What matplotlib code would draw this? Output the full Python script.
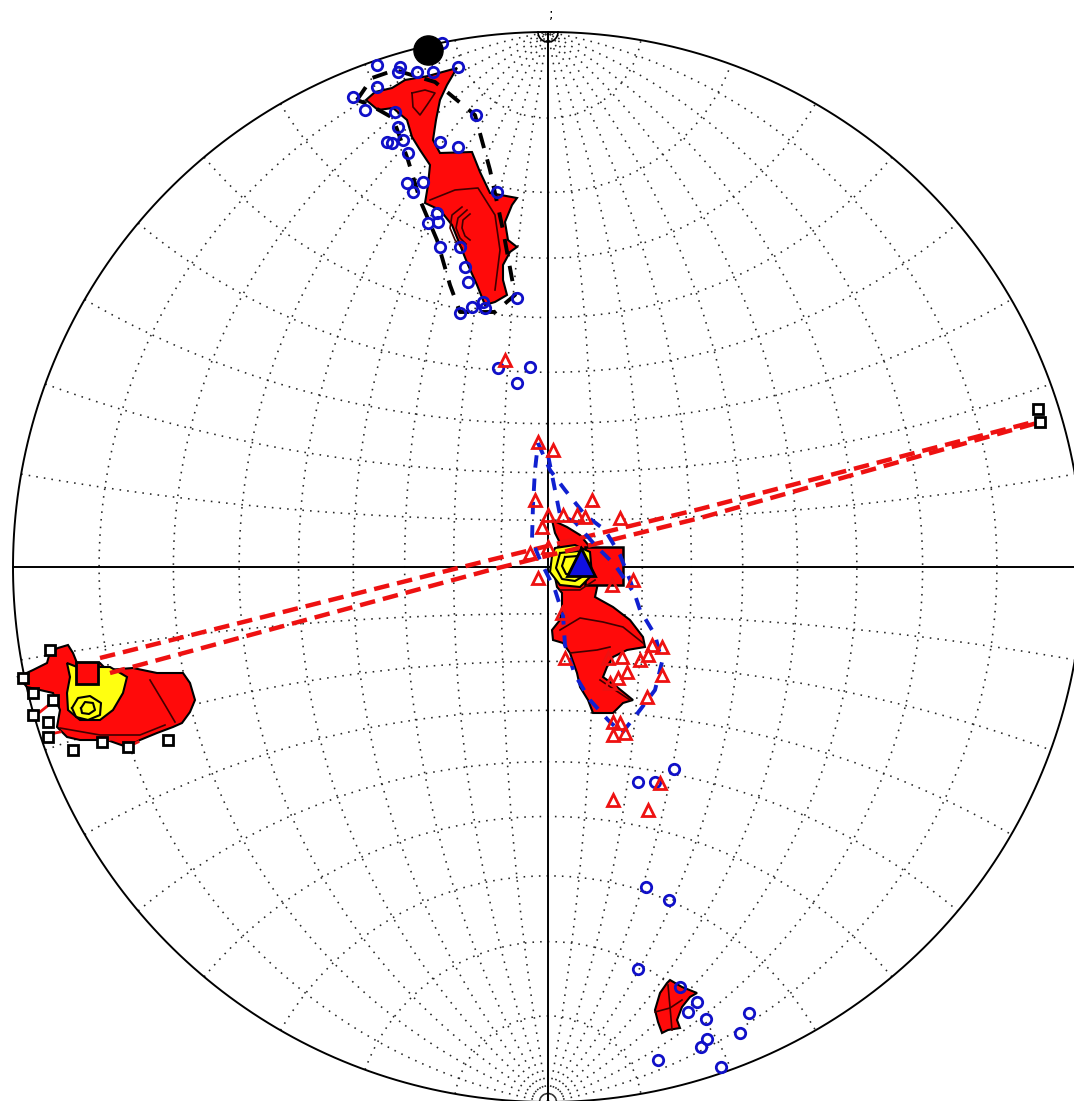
import numpy as np
import matplotlib
matplotlib.use("Agg")
import matplotlib.pyplot as plt
from matplotlib.patches import Polygon

# net radius (projection units) and visible window
R = 535.0
XLIM = (-548, 526)
YLIM = (-534, 567)

# ---- data (x east, y north, projection units) ----
circ_x = [-171, -148, -150, -131, -115, -90, -106, -171, -195, -183, -153, -150, -161,
          -156, -145, -140, -108, -90, -72, -141, -135, -125, -51, -111, -120, -110,
          -108, -88, -83, -80, -76, -65, -88, -31, -63,
          -50, -18, -31,
          90, 107, 126, 98, 121, 90, 149, 140, 158, 201, 192, 159, 153, 110, 173, 132]
circ_y = [502, 500, 495, 495, 495, 500, 524, 480, 470, 457, 455, 440, 425,
          424, 427, 414, 425, 420, 452, 384, 375, 385, 375, 354, 344, 345,
          320, 320, 300, 285, 260, 265, 254, 269, 259,
          199, 200, 184,
          -215, -215, -202, -320, -333, -402, -435, -445, -452, -446, -466, -472, -480, -493, -500, -420]

tri_x = [-43, -10, 5, -13, 44, 0, 15, 29, 37, -6, 72, -18, 0, -10, 85, 14, 17, 60, 74,
         92, 100, 104, 114, 79, 70, 62, 114, 99, 65, 72, 65, 77, 64, 112, 65, 100]
tri_y = [207, 125, 117, 67, 67, 52, 52, 52, 50, 40, 49, 14, 20, -11, -13, -46, -91, -91, -90,
         -93, -88, -78, -80, -105, -111, -116, -108, -130, -155, -156, -168, -166, -18, -216, -233, -243]

sq_x = [-525, -515, -498, -495, -515, -500, -500, -475, -446, -420, -380, 490, 492]
sq_y = [-111, -126, -83, -133, -148, -155, -170, -183, -175, -180, -173, 158, 145]

# mean directions
mean_circle = (-120, 517)
mean_tri = (33, 5)
mean_sq_center = (56, 1)
mean_sq_left = (-461, -106)

# density contours (outer red, inner yellow)
top_red = [(-91, 499), (-120, 491), (-143, 487), (-156, 479), (-173, 475), (-182, 467), (-170, 457),
           (-155, 459), (-141, 447), (-136, 430), (-128, 417), (-118, 402), (-120, 382), (-123, 364),
           (-108, 357), (-96, 342), (-88, 322), (-80, 302), (-71, 282), (-63, 262), (-53, 265),
           (-41, 272), (-45, 287), (-45, 302), (-38, 315), (-31, 320), (-40, 327), (-43, 345),
           (-36, 362), (-31, 369), (-58, 374), (-68, 395), (-76, 415), (-108, 414), (-115, 427),
           (-112, 447), (-108, 467), (-101, 482)]
top_lines = [
    [(-136, 474), (-123, 477), (-113, 474), (-121, 462), (-128, 452), (-135, 460), (-136, 474)],
    [(-118, 367), (-93, 377), (-70, 379), (-53, 352), (-48, 317), (-53, 277)],
    [(-86, 360), (-96, 352), (-98, 339), (-93, 327), (-86, 319)],
    [(-81, 357), (-90, 349), (-92, 339), (-88, 329), (-82, 323)],
    [(-78, 353), (-85, 347), (-86, 339), (-83, 331), (-78, 327)],
]

ctr_red = [(4, 47), (19, 40), (32, 32), (42, 20), (59, -3), (50, -16), (47, -30), (65, -40), (82, -53),
           (95, -70), (97, -80), (79, -83), (65, -90), (59, -100), (55, -110), (69, -120), (85, -133),
           (75, -136), (65, -146), (45, -146), (40, -133), (32, -120), (29, -106), (22, -86), (15, -76),
           (5, -73), (4, -63), (12, -53), (14, -40), (14, -26), (9, -20), (4, 4), (7, 14), (12, 24), (7, 34)]
ctr_lines = [
    [(12, -63), (32, -51), (55, -55), (75, -60), (95, -76)],
    [(22, -86), (49, -83), (62, -80)],
    [(12, -23), (32, -23), (47, -13)],
    [(52, -113), (67, -123), (82, -133)],
]
ctr_yel = [(7, 19), (27, 22), (42, 15), (44, -8), (32, -20), (12, -18), (2, -5), (4, 11)]
ctr_rings = [
    [(12, 14), (30, 16), (38, 7), (37, -8), (27, -14), (14, -12), (8, -1), (12, 14)],
    [(17, 10), (30, 11), (34, 1), (29, -8), (18, -7), (14, 1), (17, 10)],
]

left_red = [(-530, -110), (-515, -103), (-501, -96), (-498, -85), (-490, -81), (-480, -78), (-475, -86),
            (-471, -96), (-448, -96), (-441, -103), (-415, -101), (-391, -106), (-365, -106),
            (-358, -116), (-353, -133), (-358, -145), (-366, -156), (-375, -160), (-391, -166),
            (-408, -173), (-421, -180), (-441, -173), (-468, -173), (-481, -170), (-491, -160),
            (-488, -143), (-495, -126), (-508, -123), (-521, -120)]
left_lines = [
    [(-488, -161), (-448, -168), (-408, -168), (-383, -158)],
    [(-398, -113), (-383, -138), (-373, -155)],
]
left_yel = [(-481, -96), (-471, -100), (-438, -100), (-421, -110), (-425, -126), (-435, -143),
            (-448, -153), (-468, -153), (-480, -143), (-481, -126), (-478, -110)]
left_rings = [
    [(-476, -141), (-470, -131), (-458, -129), (-447, -136), (-448, -148), (-460, -153), (-472, -150), (-476, -141)],
    [(-467, -141), (-463, -135), (-455, -136), (-453, -143), (-459, -147), (-466, -146), (-467, -141)],
]

br_red = [(122, -413), (134, -420), (149, -426), (142, -430), (134, -440), (129, -453), (132, -461),
          (120, -463), (114, -466), (110, -455), (107, -443), (112, -426), (119, -416)]
br_lines = [[(107, -445), (122, -441), (134, -433)], [(120, -418), (122, -440), (124, -463)]]

# confidence cones
black_cone = [(-191, 467), (-176, 489), (-153, 497), (-113, 485), (-73, 452), (-58, 397), (-45, 337),
              (-33, 272), (-53, 255), (-88, 255), (-98, 282), (-111, 327), (-128, 367), (-140, 407),
              (-155, 449), (-178, 462), (-191, 467)]
blue_cone = [(-10, 124), (2, 97), (17, 77), (37, 52), (57, 37), (72, 12), (82, -13), (92, -43),
             (107, -68), (114, -95), (107, -123), (92, -143), (74, -166), (60, -153), (42, -133),
             (27, -108), (17, -78), (15, -48), (7, -23), (-8, 7), (-16, 27), (-15, 62), (-13, 97), (-10, 124)]
blue_cone2 = [(0, 112), (7, 77), (12, 52), (27, 45), (47, 22), (67, 2), (84, -23)]

# great-circle traces
red_gc1 = [(-448, -91), (-58, 7), (152, 58), (489, 146)]
red_gc2 = [(-438, -106), (-58, -3), (152, 49), (489, 144)]
red_ticks = [[(-508, -145), (-493, -133)], [(-503, -168), (-488, -165)],
             [(-448, -175), (-433, -171)], [(-423, -181), (-410, -175)]]


def proj(lon, lat):
    lon = np.radians(lon)
    lat = np.radians(lat)
    X = np.cos(lat) * np.sin(lon)
    Y = np.sin(lat)
    Z = np.cos(lat) * np.cos(lon)
    return R * X / (1 + Z), R * Y / (1 + Z)


def xy(pts):
    a = np.array(pts, dtype=float)
    return a[:, 0], a[:, 1]


fig = plt.figure(figsize=(10.74, 11.01), dpi=100)
ax = fig.add_axes([0, 0, 1, 1])
ax.set_xlim(*XLIM)
ax.set_ylim(*YLIM)
ax.axis('off')

# Wulff net grid
dot = (0, (1, 3.8))
t = np.linspace(-90, 90, 361)
for lon in range(-80, 90, 10):
    if lon == 0:
        continue
    gx, gy = proj(lon, t)
    ax.plot(gx, gy, color='0.15', lw=1.15, ls=dot, zorder=1)
for lat in range(-80, 90, 10):
    if lat == 0:
        continue
    gx, gy = proj(t, lat)
    ax.plot(gx, gy, color='0.15', lw=1.15, ls=dot, zorder=1)

th = np.linspace(0, 2 * np.pi, 721)
ax.plot(R * np.cos(th), R * np.sin(th), color='k', lw=1.4, zorder=2)
ax.plot([-R, R], [0, 0], color='k', lw=1.4, zorder=2)
ax.plot([0, 0], [-R, R], color='k', lw=1.4, zorder=2)
ph = np.linspace(np.pi, 2 * np.pi, 100)
ax.plot(10 * np.cos(ph), R + 10 * np.sin(ph), color='k', lw=1.2, zorder=2)
ax.text(3, 553, ';', ha='center', va='center', fontsize=10, color='k')

# contours
RED = '#ff0a0a'
YEL = '#ffff10'
for poly in (top_red, ctr_red, left_red, br_red):
    ax.add_patch(Polygon(poly, closed=True, fc=RED, ec='k', lw=1.5, zorder=3))
for poly in (ctr_yel, left_yel):
    ax.add_patch(Polygon(poly, closed=True, fc=YEL, ec='k', lw=1.5, zorder=3.2))
for ln in top_lines + ctr_lines + left_lines + br_lines:
    lx, ly = xy(ln)
    ax.plot(lx, ly, color='#400000', lw=1.2, zorder=3.3)
for ln in ctr_rings + left_rings:
    lx, ly = xy(ln)
    ax.plot(lx, ly, color='k', lw=1.5, zorder=3.3)

# great circles and cones
for gc in (red_gc1, red_gc2):
    lx, ly = xy(gc)
    ax.plot(lx, ly, color='#ee1111', lw=3.2, ls=(0, (3.5, 1.8)), zorder=3.5)
for ln in red_ticks:
    lx, ly = xy(ln)
    ax.plot(lx, ly, color='#ee1111', lw=2, zorder=3.5)
lx, ly = xy(black_cone)
ax.plot(lx, ly, color='k', lw=2.8, ls=(0, (4, 3)), zorder=4)
lx, ly = xy(blue_cone)
ax.plot(lx, ly, color='#1020d0', lw=2.8, ls=(0, (3.2, 2.8)), zorder=4)
lx, ly = xy(blue_cone2)
ax.plot(lx, ly, color='#1020d0', lw=2.8, ls=(0, (3.2, 2.8)), zorder=4)

# individual poles
ax.plot(circ_x, circ_y, 'o', ms=7.5, mfc='none', mec='#1010c8', mew=2, zorder=4.5)
ax.plot(tri_x, tri_y, '^', ms=9, mfc='none', mec='#ee1111', mew=2, zorder=4.5)
ax.plot(sq_x, sq_y, 's', ms=7, mfc='white', mec='k', mew=2, zorder=4.5)

# mean directions
ax.plot(*mean_sq_center, 's', ms=27, mfc=RED, mec='k', mew=1.8, zorder=3.1)
ax.plot(*mean_sq_left, 's', ms=16, mfc=RED, mec='k', mew=2, zorder=5)
ax.plot(*mean_circle, 'o', ms=21, mfc='k', mec='k', zorder=5)
ax.plot(*mean_tri, '^', ms=20, mfc='#1010e0', mec='k', mew=2, zorder=5)

fig.savefig('out.png', dpi=100)
